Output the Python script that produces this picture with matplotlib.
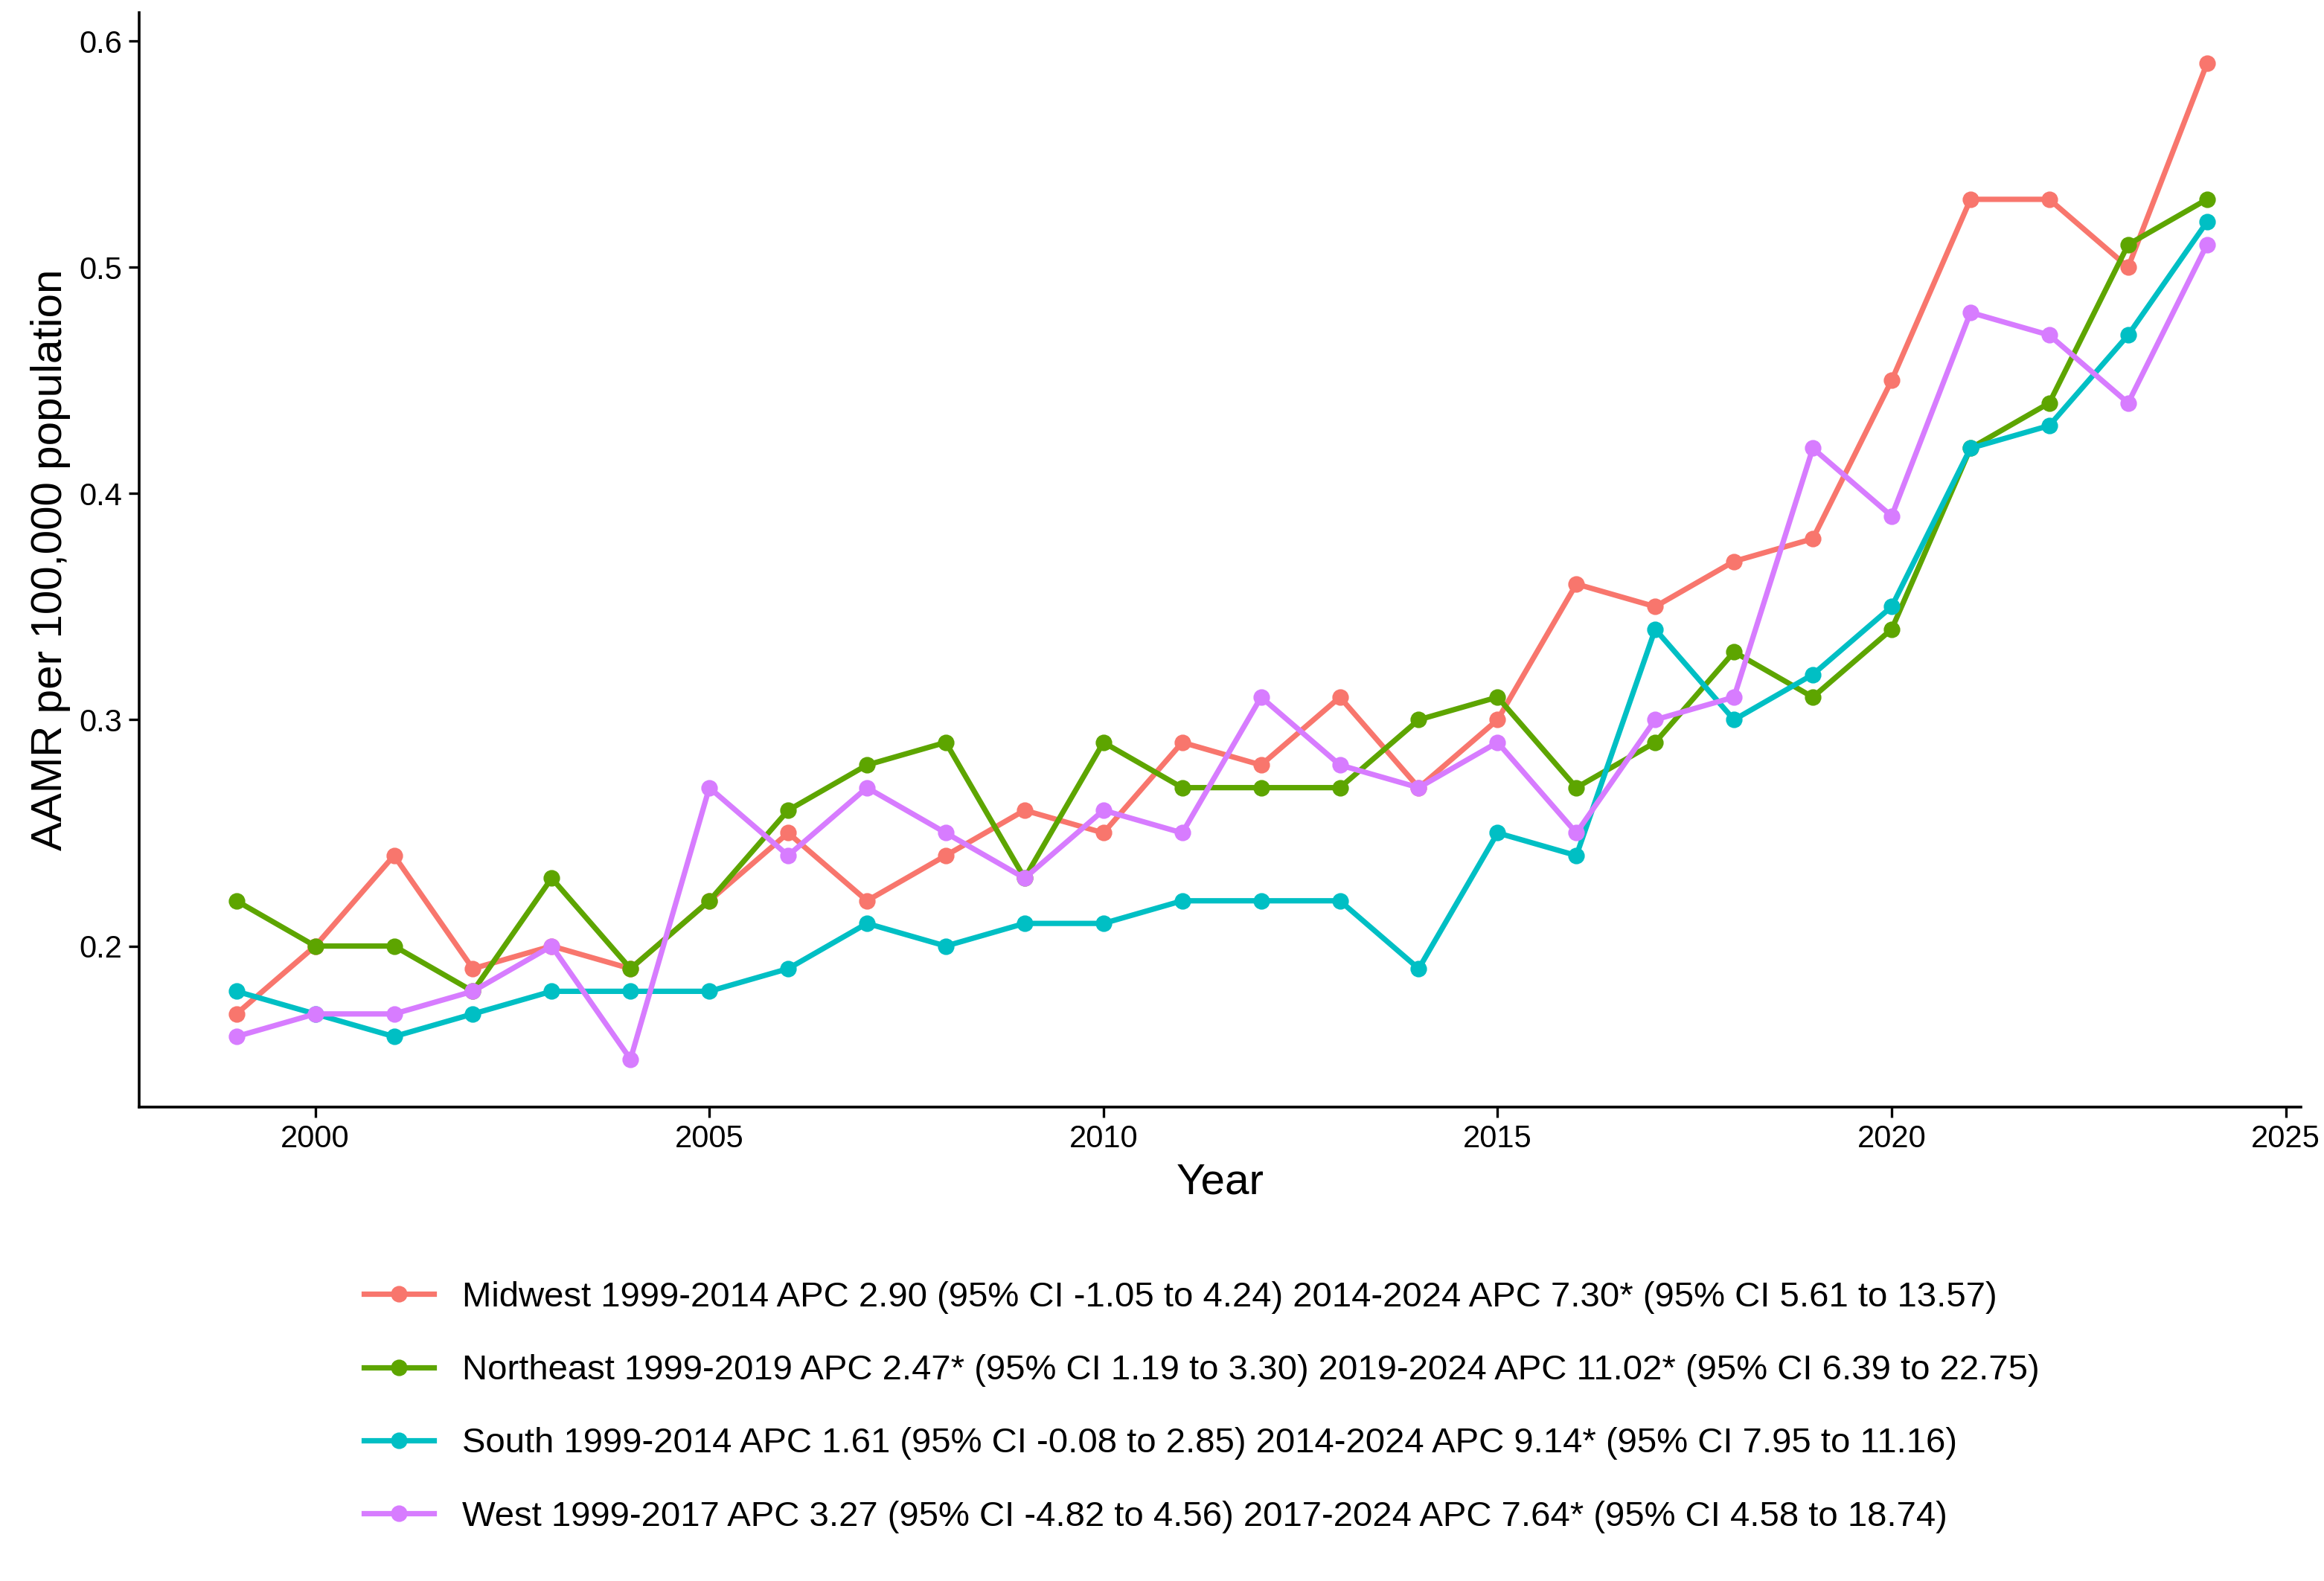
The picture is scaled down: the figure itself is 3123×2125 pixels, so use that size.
import matplotlib
matplotlib.use("Agg")
import matplotlib.pyplot as plt

plt.rcParams["font.family"] = ["Liberation Sans", "DejaVu Sans"]

years = list(range(1999, 2025))
midwest = [0.17, 0.20, 0.24, 0.19, 0.20, 0.19, 0.22, 0.25, 0.22, 0.24, 0.26, 0.25, 0.29,
           0.28, 0.31, 0.27, 0.30, 0.36, 0.35, 0.37, 0.38, 0.45, 0.53, 0.53, 0.50, 0.59]
northeast = [0.22, 0.20, 0.20, 0.18, 0.23, 0.19, 0.22, 0.26, 0.28, 0.29, 0.23, 0.29, 0.27,
             0.27, 0.27, 0.30, 0.31, 0.27, 0.29, 0.33, 0.31, 0.34, 0.42, 0.44, 0.51, 0.53]
south = [0.18, 0.17, 0.16, 0.17, 0.18, 0.18, 0.18, 0.19, 0.21, 0.20, 0.21, 0.21, 0.22,
         0.22, 0.22, 0.19, 0.25, 0.24, 0.34, 0.30, 0.32, 0.35, 0.42, 0.43, 0.47, 0.52]
west = [0.16, 0.17, 0.17, 0.18, 0.20, 0.15, 0.27, 0.24, 0.27, 0.25, 0.23, 0.26, 0.25,
        0.31, 0.28, 0.27, 0.29, 0.25, 0.30, 0.31, 0.42, 0.39, 0.48, 0.47, 0.44, 0.51]

labels = [
    "Midwest 1999-2014 APC 2.90 (95% CI -1.05 to 4.24) 2014-2024 APC 7.30* (95% CI 5.61 to 13.57)",
    "Northeast 1999-2019 APC 2.47* (95% CI 1.19 to 3.30) 2019-2024 APC 11.02* (95% CI 6.39 to 22.75)",
    "South 1999-2014 APC 1.61 (95% CI -0.08 to 2.85) 2014-2024 APC 9.14* (95% CI 7.95 to 11.16)",
    "West 1999-2017 APC 3.27 (95% CI -4.82 to 4.56) 2017-2024 APC 7.64* (95% CI 4.58 to 18.74)",
]
colors = ["#F8766D", "#5DA500", "#00BFC4", "#D77CFF"]

fig = plt.figure(figsize=(15.615, 10.625), dpi=200)
ax = fig.add_axes([0.060, 0.300, 0.930, 0.692])

for vals, lab, c in zip([midwest, northeast, south, west], labels, colors):
    ax.plot(years, vals, color=c, lw=2.6, marker="o", ms=7, label=lab)

ax.set_xlim(1997.77, 2025.19)
ax.set_ylim(0.129, 0.6125)
ax.set_xticks([2000, 2005, 2010, 2015, 2020, 2025])
ax.set_yticks([0.2, 0.3, 0.4, 0.5, 0.6])
ax.set_yticklabels(["0.2", "0.3", "0.4", "0.5", "0.6"])
ax.tick_params(labelsize=15, length=5, width=1.2, colors="black")
for s in ["top", "right"]:
    ax.spines[s].set_visible(False)
for s in ["left", "bottom"]:
    ax.spines[s].set_linewidth(1.3)
ax.set_xlabel("Year", fontsize=21)
ax.set_ylabel("AAMR per 100,000 population", fontsize=21)

fig.legend(loc="center", bbox_to_anchor=(0.517, 0.11), frameon=False, fontsize=17,
           labelspacing=1.15, handlelength=2.0)

fig.savefig("out.png", dpi=200)
